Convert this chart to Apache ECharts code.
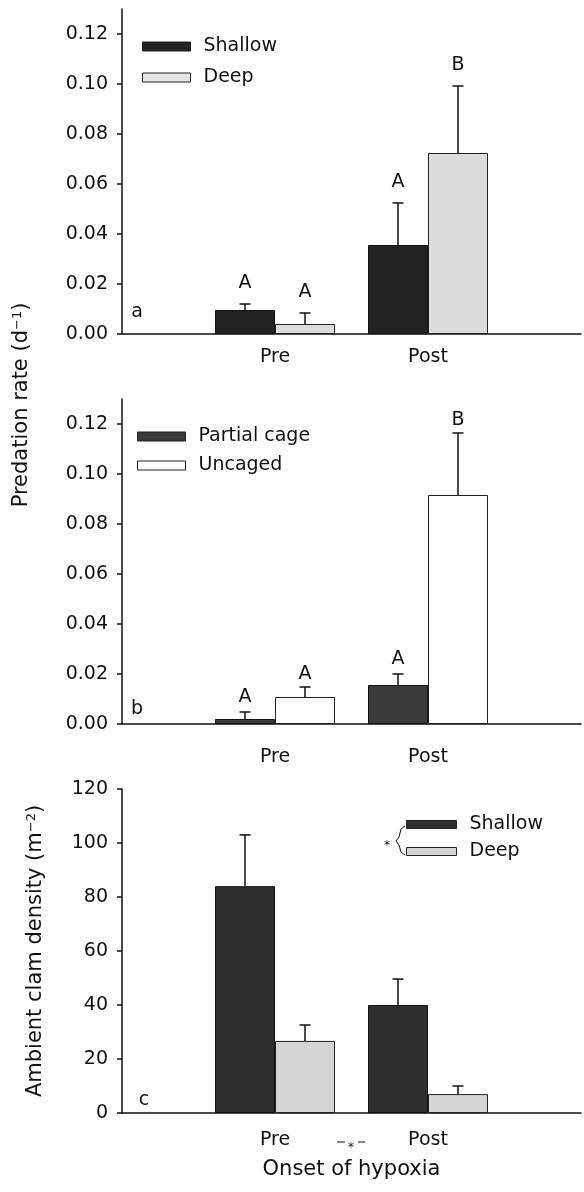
<!DOCTYPE html>
<html>
<head>
<meta charset="utf-8">
<script src="https://cdn.jsdelivr.net/npm/echarts@6/dist/echarts.min.js"></script>
<style>
  html, body { margin: 0; padding: 0; background: #fff; }
  #chart { width: 584px; height: 1192px; }
</style>
</head>
<body>
<div id="chart"></div>
<script>
const fontFamily = "DejaVu Sans";

const categories = ["Pre", "Post"];
const rateTicks = [0, 0.02, 0.04, 0.06, 0.08, 0.10, 0.12];
const densityTicks = [0, 20, 40, 60, 80, 100, 120];

// panel a: shallow vs deep predation rate
const aShallow = [0.0096, 0.0356];
const aShallowErr = [0.012, 0.0524];
const aShallowLetters = ["A", "A"];
const aDeep = [0.004, 0.0724];
const aDeepErr = [0.0084, 0.0992];
const aDeepLetters = ["A", "B"];

// panel b: partial cage vs uncaged
const bPartial = [0.002, 0.0156];
const bPartialErr = [0.0048, 0.02];
const bPartialLetters = ["A", "A"];
const bUncaged = [0.0108, 0.0916];
const bUncagedErr = [0.0148, 0.1164];
const bUncagedLetters = ["A", "B"];

// panel c: ambient clam density
const cShallow = [84, 40];
const cShallowErr = [103, 49.6];
const cDeep = [26.7, 7];
const cDeepErr = [32.6, 10];

const BAR_W = 60;
const CAP = 5.5;
const INK = "#111";

const axisData = ["", ...categories, ""];
const pad = (vals) => [null, ...vals, null];
const errData = (vals, errs) => vals.map((v, i) => [i + 1, v, errs[i]]);

function errorRender(side, letters, gap) {
  return function (params, api) {
    const c = api.value(0);
    const base = api.coord([c, api.value(1)]);
    const top = api.coord([c, api.value(2)]);
    const x = base[0] + side * BAR_W / 2;
    const children = [
      { type: "line", shape: { x1: x, y1: base[1], x2: x, y2: top[1] }, style: { stroke: INK, lineWidth: 1.5 } },
      { type: "line", shape: { x1: x - CAP, y1: top[1], x2: x + CAP, y2: top[1] }, style: { stroke: INK, lineWidth: 1.5 } }
    ];
    if (letters) {
      children.push({
        type: "text",
        style: {
          text: letters[params.dataIndex], x: x, y: top[1] - gap,
          align: "center", verticalAlign: "bottom",
          fontSize: 19, fontFamily: fontFamily, fill: INK
        }
      });
    }
    return { type: "group", children: children };
  };
}

function xAxisFor(idx, margin, extra) {
  return Object.assign({
    gridIndex: idx,
    type: "category",
    data: axisData,
    boundaryGap: false,
    axisLine: { lineStyle: { color: INK, width: 1.5 } },
    axisTick: { show: false },
    axisLabel: { interval: 0, margin: margin, fontSize: 19, fontFamily: fontFamily, color: INK }
  }, extra || {});
}

function yAxisFor(idx, max, ticks, fmt, extra) {
  return Object.assign({
    gridIndex: idx,
    type: "value",
    min: 0,
    max: max,
    splitLine: { show: false },
    axisLine: { show: true, lineStyle: { color: INK, width: 1.5 } },
    axisTick: { show: true, length: 5, customValues: ticks, lineStyle: { color: INK, width: 1.5 } },
    axisLabel: { customValues: ticks, formatter: fmt, margin: 14, fontSize: 19, fontFamily: fontFamily, color: INK }
  }, extra || {});
}

function barSeries(name, idx, vals, color, border) {
  return {
    type: "bar", name: name, xAxisIndex: idx, yAxisIndex: idx,
    data: pad(vals), barWidth: BAR_W, barGap: "0%",
    itemStyle: { color: color, borderColor: border || INK, borderWidth: 1 }
  };
}

function errSeries(idx, vals, errs, side, letters, gap) {
  return {
    type: "custom", xAxisIndex: idx, yAxisIndex: idx, z: 5,
    data: errData(vals, errs),
    encode: { x: 0, y: [1, 2] },
    renderItem: errorRender(side, letters, gap)
  };
}

const legendText = { fontSize: 19, fontFamily: fontFamily, color: INK, padding: [0, 0, 0, 8] };
function legendItem(name, color) {
  return { name: name, itemStyle: { color: color, borderColor: "#222", borderWidth: 1 } };
}

const chart = echarts.init(document.getElementById("chart"));

const option = {
  backgroundColor: "#fff",
  animation: false,
  grid: [
    { left: 122, right: 0, top: 9, height: 325 },
    { left: 122, right: 0, top: 399, height: 325 },
    { left: 122, right: 0, top: 789, height: 324 }
  ],
  legend: [
    {
      data: [legendItem("Shallow", "#222"), legendItem("Deep", "#e6e6e6")],
      orient: "vertical", left: 137, top: 32, itemWidth: 48, itemHeight: 9, itemGap: 12,
      icon: "rect", selectedMode: false, textStyle: legendText
    },
    {
      data: [legendItem("Partial cage", "#3a3a3a"), legendItem("Uncaged", "#fff")],
      orient: "vertical", left: 132, top: 422, itemWidth: 48, itemHeight: 9, itemGap: 10,
      icon: "rect", selectedMode: false, textStyle: legendText
    },
    {
      data: [legendItem("Shallow", "#2e2e2e"), legendItem("Deep", "#d4d4d4")],
      orient: "vertical", left: 401, top: 810, itemWidth: 50, itemHeight: 8, itemGap: 8,
      icon: "rect", selectedMode: false, textStyle: legendText
    }
  ],
  xAxis: [
    xAxisFor(0, 14),
    xAxisFor(1, 24),
    xAxisFor(2, 18, {
      name: "Onset of hypoxia", nameLocation: "middle", nameGap: 46,
      nameTextStyle: { fontSize: 21, fontFamily: fontFamily, color: INK }
    })
  ],
  yAxis: [
    yAxisFor(0, 0.13, rateTicks, (v) => v.toFixed(2)),
    yAxisFor(1, 0.13, rateTicks, (v) => v.toFixed(2)),
    yAxisFor(2, 120, densityTicks, (v) => String(Math.round(v)), {
      name: "Ambient clam density (m{sup|\u22122})", nameLocation: "middle", nameGap: 76,
      nameTextStyle: {
        fontSize: 21, fontFamily: fontFamily, color: INK,
        rich: { sup: { fontSize: 13, fontFamily: fontFamily, color: INK, verticalAlign: "top" } }
      }
    })
  ],
  graphic: [
    {
      type: "text", x: 22, y: 405, rotation: Math.PI / 2,
      style: {
        text: "Predation rate (d{sup|\u22121})", align: "center", verticalAlign: "middle",
        fontSize: 21, fontFamily: fontFamily, fill: INK,
        rich: { sup: { fontSize: 13, fontFamily: fontFamily, fill: INK, verticalAlign: "top" } }
      }
    },
    { type: "text", x: 137, y: 312, style: { text: "a", align: "center", verticalAlign: "middle", fontSize: 19, fontFamily: fontFamily, fill: INK } },
    { type: "text", x: 137, y: 709, style: { text: "b", align: "center", verticalAlign: "middle", fontSize: 19, fontFamily: fontFamily, fill: INK } },
    { type: "text", x: 144, y: 1100, style: { text: "c", align: "center", verticalAlign: "middle", fontSize: 19, fontFamily: fontFamily, fill: INK } },
    // significance bracket next to panel c legend
    {
      type: "polyline",
      shape: { points: [[405, 826], [401, 829], [399, 837], [396, 841], [399, 845], [401, 852], [405, 855]] },
      style: { stroke: INK, lineWidth: 1, fill: null }
    },
    { type: "text", x: 387, y: 846, style: { text: "*", align: "center", verticalAlign: "middle", fontSize: 12, fontFamily: fontFamily, fill: INK } },
    // significance mark between Pre and Post
    { type: "line", shape: { x1: 337, y1: 1142, x2: 345, y2: 1142 }, style: { stroke: INK, lineWidth: 1 } },
    { type: "line", shape: { x1: 358, y1: 1142, x2: 365, y2: 1142 }, style: { stroke: INK, lineWidth: 1 } },
    { type: "text", x: 351, y: 1148, style: { text: "*", align: "center", verticalAlign: "middle", fontSize: 12, fontFamily: fontFamily, fill: INK } }
  ],
  series: [
    barSeries("Shallow", 0, aShallow, "#222"),
    barSeries("Deep", 0, aDeep, "#dcdcdc", "#222"),
    errSeries(0, aShallow, aShallowErr, -1, aShallowLetters, 11),
    errSeries(0, aDeep, aDeepErr, 1, aDeepLetters, 11),

    barSeries("Partial cage", 1, bPartial, "#3a3a3a"),
    barSeries("Uncaged", 1, bUncaged, "#fff", "#222"),
    errSeries(1, bPartial, bPartialErr, -1, bPartialLetters, 5),
    errSeries(1, bUncaged, bUncagedErr, 1, bUncagedLetters, 3),

    barSeries("Shallow", 2, cShallow, "#2e2e2e"),
    barSeries("Deep", 2, cDeep, "#d4d4d4", "#222"),
    errSeries(2, cShallow, cShallowErr, -1, null, 0),
    errSeries(2, cDeep, cDeepErr, 1, null, 0)
  ]
};

chart.setOption(option);
</script>
</body>
</html>
